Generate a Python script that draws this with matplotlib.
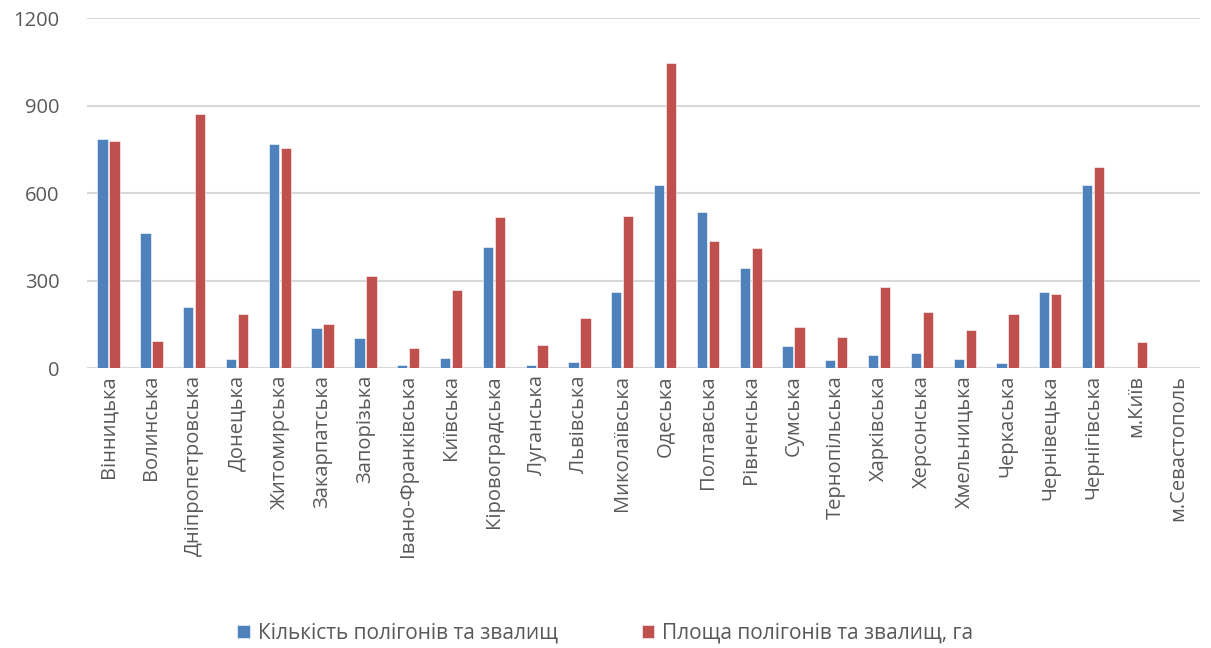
import numpy as np
import matplotlib.pyplot as plt

plt.rcParams['font.family'] = ['Open Sans', 'DejaVu Sans']

regions = ['Вінницька', 'Волинська', 'Дніпропетровська', 'Донецька', 'Житомирська',
           'Закарпатська', 'Запорізька', 'Івано-Франківська', 'Київська', 'Кіровоградська',
           'Луганська', 'Львівська', 'Миколаївська', 'Одеська', 'Полтавська', 'Рівненська',
           'Сумська', 'Тернопільська', 'Харківська', 'Херсонська', 'Хмельницька', 'Черкаська',
           'Чернівецька', 'Чернігівська', 'м.Київ', 'м.Севастополь']
count = [785, 463, 209, 31, 767, 137, 103, 11, 36, 415, 11, 22, 262, 628, 536, 344,
         74, 26, 46, 51, 31, 17, 262, 628, 0, 0]
area = [780, 94, 872, 185, 756, 152, 315, 70, 267, 517, 80, 170, 522, 1046, 436, 411,
        141, 108, 277, 191, 132, 185, 253, 690, 90, 0]

fig = plt.figure(figsize=(12.11, 6.48), dpi=100)
ax = fig.add_axes([0.072, 0.432, 0.919, 0.54])

x = np.arange(len(regions))
w = 0.24
ax.bar(x - 0.14, count, w, color='#4F81BD', edgecolor='white', linewidth=0.4,
       label='Кількість полігонів та звалищ', zorder=3)
ax.bar(x + 0.14, area, w, color='#C0504D', edgecolor='white', linewidth=0.4,
       label='Площа полігонів та звалищ, га', zorder=3)

ax.set_xlim(-0.5, len(regions) - 0.5)
ax.set_ylim(0, 1200)
ax.set_yticks([0, 300, 600, 900, 1200])
ax.yaxis.grid(True, color='#d9d9d9', linewidth=1.5, zorder=0)
for s in ax.spines.values():
    s.set_visible(False)
ax.tick_params(axis='both', length=0, labelsize=14.5, colors='#595959')
ax.tick_params(axis='y', pad=20)
ax.tick_params(axis='x', pad=5)
ax.set_xticks(x)
ax.set_xticklabels(regions, rotation=90)

fig.legend(loc='lower center', bbox_to_anchor=(0.5, -0.022), ncol=2, frameon=False,
           fontsize=15, handlelength=0.6, handleheight=0.6, columnspacing=4.0,
           handletextpad=0.4, labelcolor='#595959')

plt.savefig('out.png')
